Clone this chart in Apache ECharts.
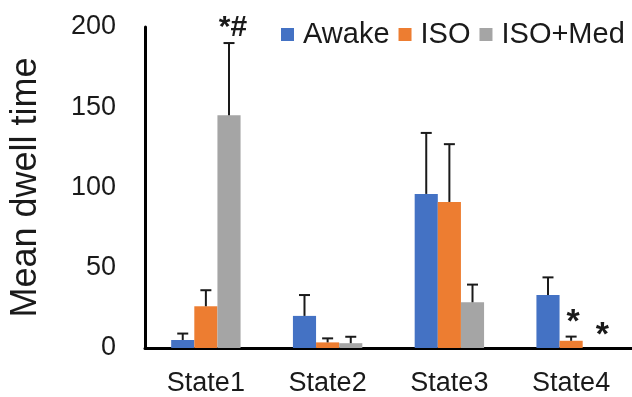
<!DOCTYPE html>
<html>
<head>
<meta charset="utf-8">
<script src="https://cdn.jsdelivr.net/npm/echarts@6/dist/echarts.min.js"></script>
<style>
html,body{margin:0;padding:0;background:#fff;}
#chart{width:632px;height:397px;}
</style>
</head>
<body>
<div id="chart"></div>
<script>
const categories = ['State1', 'State2', 'State3', 'State4'];
const seriesNames = ['Awake', 'ISO', 'ISO+Med'];
const awake = [5, 20, 96, 33];
const iso = [26, 3.5, 91, 4.5];
const isoMed = [145, 3, 28.5, 0];
const awakeErr = [4, 13, 38, 11];
const isoErr = [10, 2.5, 36, 2.6];
const isoMedErr = [45, 4, 11, 0];
const yMin = 0, yMax = 200, yInterval = 50;
const annoText = ['*#', '*', '*'];
const annoCat = [0, 3, 3];
const annoSeries = [2, 1, 2];
const annoValue = [199.5, 15.5, 8];
const annoSize = [30, 34, 34];

const colors = ['#4472C4', '#ED7D31', '#A5A5A5'];
const BAR_RATIO = 0.19;
const means = [awake, iso, isoMed];
const errs = [awakeErr, isoErr, isoMedErr];

const errData = [];
means.forEach((arr, s) => arr.forEach((m, i) => errData.push([i, s, m, errs[s][i]])));
const annoData = annoText.map((t, k) => [annoCat[k], annoSeries[k], annoValue[k], k]);

const chart = echarts.init(document.getElementById('chart'));
const barSeries = seriesNames.map((name, s) => ({
  name: name,
  type: 'bar',
  data: means[s],
  barWidth: (BAR_RATIO * 100) + '%',
  barGap: '0%',
  itemStyle: { color: colors[s] },
  z: 2
}));

chart.setOption({
  animation: false,
  textStyle: { fontFamily: 'Liberation Sans, Arial, sans-serif' },
  grid: { left: 143, right: 0, top: 27, bottom: 49, containLabel: false },
  legend: {
    data: seriesNames,
    left: 281, top: 20, padding: 0,
    icon: 'rect', itemWidth: 13, itemHeight: 13, itemGap: 9,
    textStyle: { fontSize: 29, color: '#1a1a1a', padding: [0, 0, 0, 4], fontFamily: 'Liberation Sans, Arial, sans-serif' }
  },
  xAxis: {
    type: 'category',
    data: categories,
    axisLine: { lineStyle: { color: '#000', width: 3 } },
    axisTick: { show: false },
    axisLabel: { fontSize: 27, color: '#1a1a1a', margin: 22 }
  },
  yAxis: {
    type: 'value',
    min: yMin, max: yMax, interval: yInterval,
    name: 'Mean dwell time',
    nameLocation: 'middle',
    nameRotate: 90,
    nameGap: 101,
    nameTextStyle: { fontSize: 36, color: '#1a1a1a' },
    axisLine: { show: true, lineStyle: { color: '#000', width: 3 } },
    axisTick: { show: false },
    splitLine: { show: false },
    axisLabel: { fontSize: 27, color: '#1a1a1a', margin: 29 }
  },
  series: barSeries.concat([
    {
      type: 'custom',
      name: 'err',
      z: 3,
      encode: { x: 0, y: 2 },
      data: errData,
      renderItem: function (params, api) {
        const i = api.value(0), s = api.value(1), m = api.value(2), e = api.value(3);
        if (!(e > 0)) return null;
        const band = api.size([1, 0])[0];
        const bw = band * BAR_RATIO;
        const x = api.coord([i, 0])[0] + (s - 1) * bw;
        const y0 = api.coord([i, m])[1];
        const y1 = api.coord([i, m + e])[1];
        const st = { stroke: '#1a1a1a', lineWidth: 2 };
        return {
          type: 'group',
          children: [
            { type: 'line', shape: { x1: x, y1: y0, x2: x, y2: y1 }, style: st },
            { type: 'line', shape: { x1: x - 5.5, y1: y1, x2: x + 5.5, y2: y1 }, style: st }
          ]
        };
      }
    },
    {
      type: 'custom',
      name: 'anno',
      z: 4,
      encode: { x: 0, y: 2 },
      data: annoData,
      renderItem: function (params, api) {
        const i = api.value(0), s = api.value(1), v = api.value(2), k = api.value(3);
        const band = api.size([1, 0])[0];
        const bw = band * BAR_RATIO;
        const x = api.coord([i, 0])[0] + (s - 1) * bw + (k === 2 ? 8 : (k === 0 ? 4 : 2));
        const y = api.coord([i, v])[1];
        return {
          type: 'text',
          x: x, y: y,
          style: {
            text: annoText[k],
            fontSize: annoSize[k],
            fontWeight: 'bold',
            fontFamily: 'Liberation Sans, Arial, sans-serif',
            fill: '#1a1a1a',
            align: 'center',
            verticalAlign: 'middle'
          }
        };
      }
    }
  ])
});
</script>
</body>
</html>
